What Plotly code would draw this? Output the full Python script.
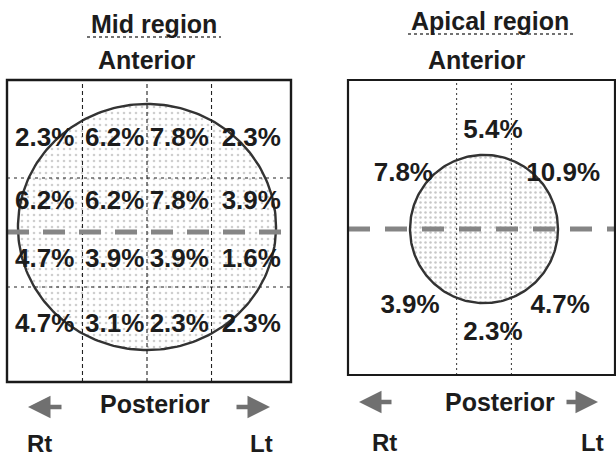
import numpy as np
import plotly.graph_objects as go

# ---- data -------------------------------------------------------------
# Mid region: 4 x 4 grid of percentages (rows anterior -> posterior, cols Rt -> Lt)
mid_values = [
    [2.3, 6.2, 7.8, 2.3],
    [6.2, 6.2, 7.8, 3.9],
    [4.7, 3.9, 3.9, 1.6],
    [4.7, 3.1, 2.3, 2.3],
]
# Apical region: six segments around the apex
apical_segments = ["Anterior", "Rt anterior", "Lt anterior",
                   "Rt posterior", "Lt posterior", "Posterior"]
apical_values = [5.4, 7.8, 10.9, 3.9, 4.7, 2.3]

W, H = 616, 458
FONT = "Liberation Sans"
INK = "#1c1c1c"
GREY = "#858585"

# ---- layout geometry (in each panel's own units: circle radius = 1) ----
mid_col_edges = [-1.085, -0.5, 0.0, 0.5, 1.116]
mid_row_lines = [0.398, -0.488]
mid_row_text = [0.71, 0.2, -0.27, -0.8]
mid_col_text = [(a + b) / 2 for a, b in zip(mid_col_edges[:-1], mid_col_edges[1:])]

apical_vlines = [-0.37, 0.37]
apical_text_pos = {
    "Anterior": (0.12, 1.31),
    "Rt anterior": (-1.09, 0.73),
    "Lt anterior": (1.07, 0.74),
    "Rt posterior": (-1.0, -1.04),
    "Lt posterior": (1.03, -1.04),
    "Posterior": (0.12, -1.41),
}


def px(x):
    return x / W


def py(y):
    return 1 - y / H


fig = go.Figure()

t = np.linspace(0, 2 * np.pi, 241)

# heart outline (slightly elliptical) with stippled fill - mid region
fig.add_trace(go.Scatter(
    x=np.cos(t), y=np.sin(t), mode="lines", fill="toself",
    fillpattern=dict(shape=".", fgcolor="#a0a0a0", bgcolor="white", size=6, solidity=0.15),
    fillcolor="white",
    line=dict(color="#333", width=2.4), hoverinfo="skip",
    xaxis="x", yaxis="y", showlegend=False))

# apical region circle
fig.add_trace(go.Scatter(
    x=np.cos(t), y=np.sin(t), mode="lines", fill="toself",
    fillpattern=dict(shape=".", fgcolor="#909090", bgcolor="white", size=5, solidity=0.2),
    fillcolor="white",
    line=dict(color="#333", width=2.4), hoverinfo="skip",
    xaxis="x2", yaxis="y2", showlegend=False))

# mid region percentages
mx, my, mt = [], [], []
for r, row in enumerate(mid_values):
    for c, v in enumerate(row):
        mx.append(mid_col_text[c])
        my.append(mid_row_text[r])
        mt.append(f"{v:.1f}%")
fig.add_trace(go.Scatter(
    x=mx, y=my, text=mt, mode="text",
    textfont=dict(family=FONT, size=26, color=INK, weight="bold"),
    xaxis="x", yaxis="y", showlegend=False, hoverinfo="skip"))

# apical region percentages
ax_, ay_, at_ = [], [], []
for seg, v in zip(apical_segments, apical_values):
    x, y = apical_text_pos[seg]
    ax_.append(x)
    ay_.append(y)
    at_.append(f"{v:.1f}%")
fig.add_trace(go.Scatter(
    x=ax_, y=ay_, text=at_, mode="text",
    textfont=dict(family=FONT, size=26, color=INK, weight="bold"),
    xaxis="x2", yaxis="y2", showlegend=False, hoverinfo="skip"))

shapes = []
grid_line = dict(color="#222", width=1.1, dash="4px,3px")

# mid region grid
for xv in mid_col_edges[1:-1]:
    shapes.append(dict(type="line", xref="x", yref="y domain", x0=xv, x1=xv,
                       y0=0, y1=1, line=grid_line, layer="above"))
for yv in mid_row_lines:
    shapes.append(dict(type="line", xref="x domain", yref="y", x0=0, x1=1,
                       y0=yv, y1=yv, line=dict(color="#222", width=1.1, dash="3px,4px"),
                       layer="above"))
shapes.append(dict(type="line", xref="x domain", yref="y", x0=0, x1=1,
                   y0=-0.04, y1=-0.04, line=dict(color=GREY, width=5, dash="22px,14px"),
                   layer="above"))
shapes.append(dict(type="rect", xref="x domain", yref="y domain", x0=0, x1=1,
                   y0=0, y1=1, line=dict(color="#1a1a1a", width=2.4), layer="above"))

# apical region grid
for xv in apical_vlines:
    shapes.append(dict(type="line", xref="x2", yref="y2 domain", x0=xv, x1=xv,
                       y0=0, y1=1, line=dict(color="#333", width=1, dash="2px,3px"),
                       layer="above"))
shapes.append(dict(type="line", xref="x2 domain", yref="y2", x0=0, x1=1,
                   y0=0, y1=0, line=dict(color=GREY, width=5, dash="22px,15px"),
                   layer="above"))
shapes.append(dict(type="rect", xref="x2 domain", yref="y2 domain", x0=0, x1=1,
                   y0=0, y1=1, line=dict(color="#1a1a1a", width=2.2), layer="above"))

# dotted underlines of the titles
shapes.append(dict(type="line", xref="paper", yref="paper", x0=px(87), x1=px(221),
                   y0=py(37), y1=py(37), line=dict(color="#444", width=1.5, dash="dot")))
shapes.append(dict(type="line", xref="paper", yref="paper", x0=px(408), x1=px(573),
                   y0=py(34), y1=py(34), line=dict(color="#444", width=1.5, dash="dot")))


def label(text, x, y, size=25):
    return dict(text=text, x=px(x), y=py(y), xref="paper", yref="paper",
                showarrow=False, xanchor="center", yanchor="middle",
                font=dict(family=FONT, size=size, color=INK, weight="bold"))


def arrow(head_x, tail_x, y):
    return dict(text="", x=px(head_x), y=py(y), xref="paper", yref="paper",
                ax=tail_x - head_x, ay=0, showarrow=True, arrowhead=2,
                arrowsize=1.0, arrowwidth=4.5, arrowcolor="#707070", standoff=0)


annotations = [
    label("Mid region", 154, 24),
    label("Anterior", 147, 60),
    label("Posterior", 155, 404),
    label("Rt", 40, 443, 24),
    label("Lt", 261, 443, 24),
    label("Apical region", 490, 21),
    label("Anterior", 477, 60),
    label("Posterior", 500, 402),
    label("Rt", 384, 442, 24),
    label("Lt", 592, 442, 24),
    arrow(28, 63, 407),
    arrow(270, 235, 407),
    arrow(359, 393, 402),
    arrow(598, 565, 402),
]

hidden = dict(visible=False, showgrid=False, zeroline=False, fixedrange=True)

fig.update_layout(
    width=W, height=H,
    margin=dict(l=0, r=0, t=0, b=0),
    paper_bgcolor="white", plot_bgcolor="white",
    xaxis=dict(domain=[px(7), px(291)], range=[-1.085, 1.116], anchor="y", **hidden),
    yaxis=dict(domain=[py(382), py(80)], range=[-1.26, 1.195], anchor="x", **hidden),
    xaxis2=dict(domain=[px(348), px(615)], range=[-1.838, 1.770], anchor="y2", **hidden),
    yaxis2=dict(domain=[py(375), py(80)], range=[-1.97, 2.01], anchor="x2", **hidden),
    shapes=shapes,
    annotations=annotations,
    showlegend=False,
)

fig.write_html("out.html")
